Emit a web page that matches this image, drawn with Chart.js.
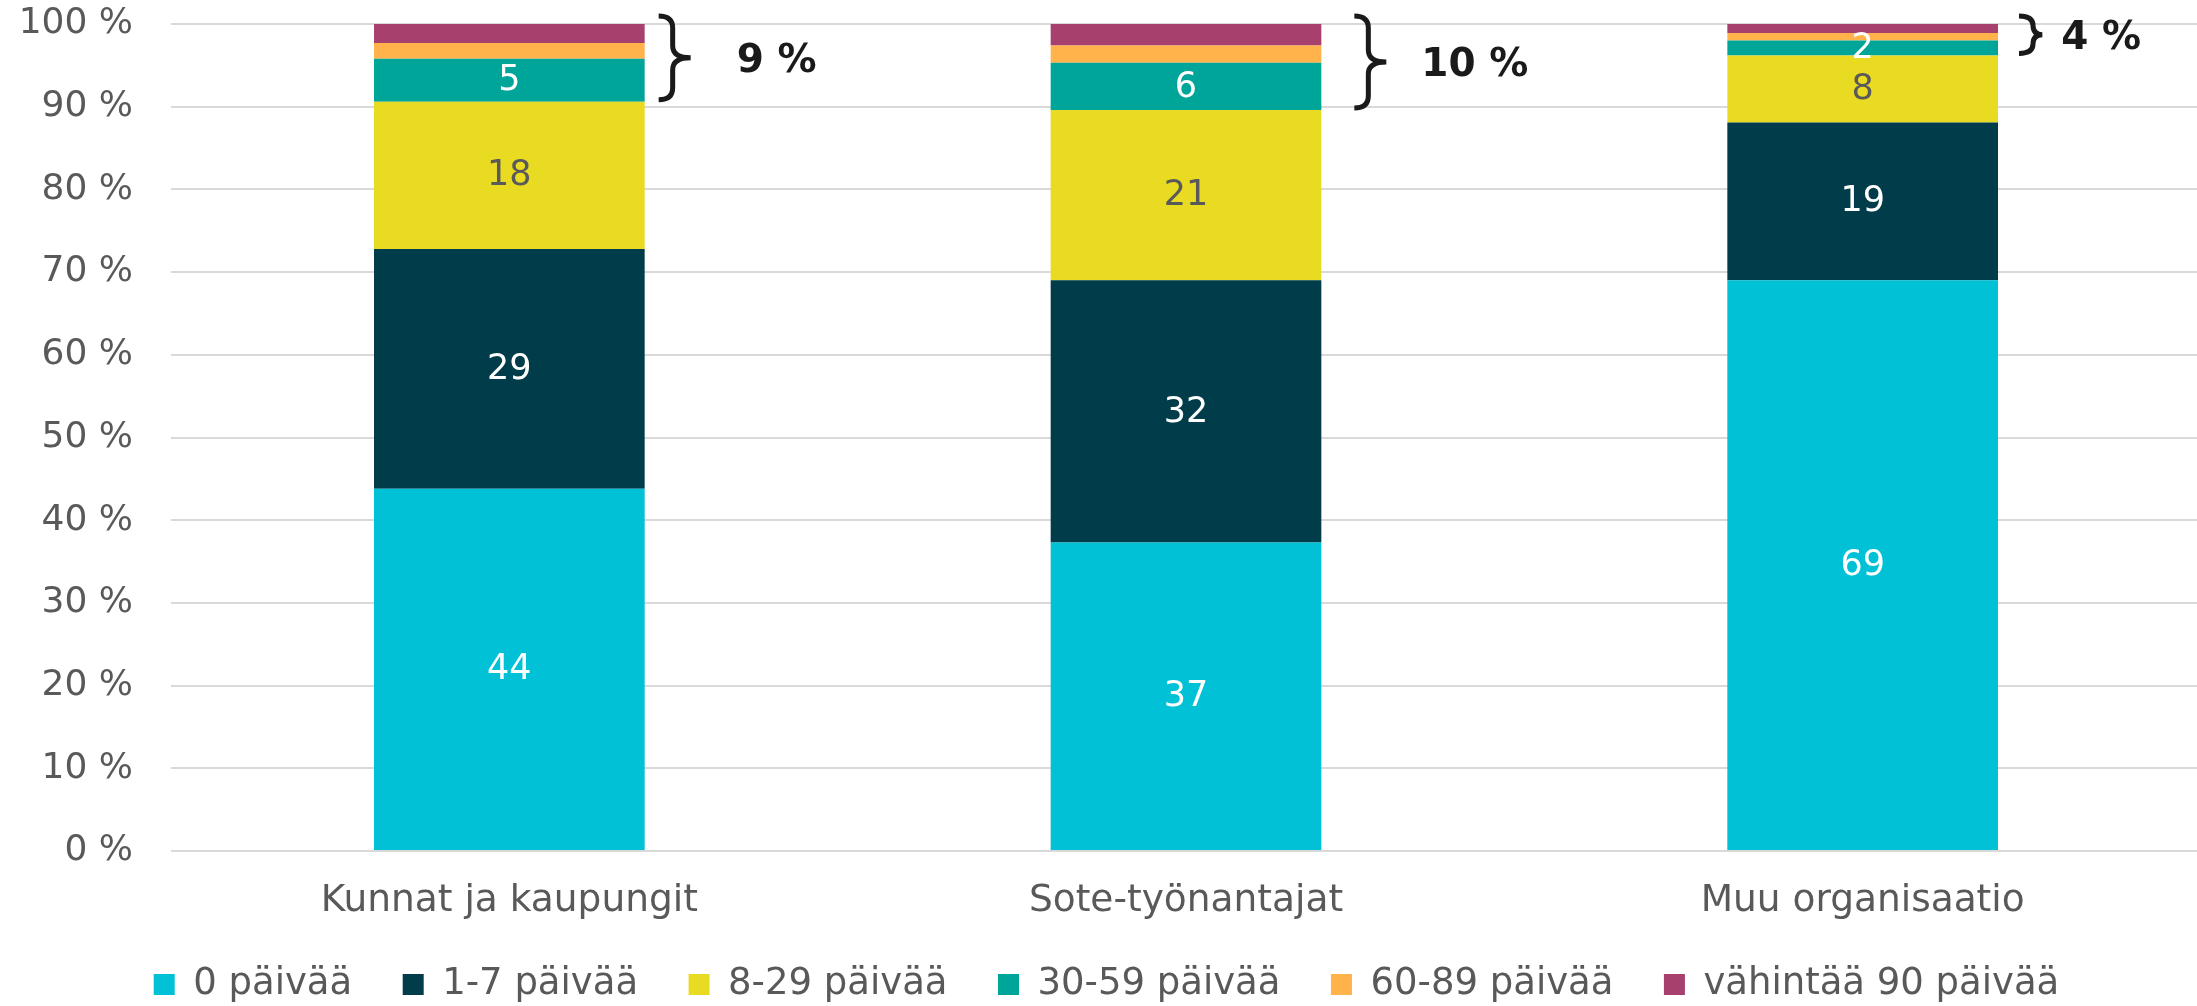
<!DOCTYPE html>
<html>
<head>
<meta charset="utf-8">
<script src="https://cdn.jsdelivr.net/npm/chart.js@4/dist/chart.umd.min.js"></script>
<style>
  html, body { margin: 0; padding: 0; overflow: hidden; background: #fff; }
  #wrap { width: 2201px; height: 1013px; }
</style>
</head>
<body>
<div id="wrap"><canvas id="myChart"></canvas></div>
<script>
var categories = ['Kunnat ja kaupungit', 'Sote-työnantajat', 'Muu organisaatio'];
var seriesNames = ['0 päivää', '1-7 päivää', '8-29 päivää', '30-59 päivää', '60-89 päivää', 'vähintää 90 päivää'];
var days0 = [43.8, 37.3, 69.0];
var days1to7 = [29.0, 31.7, 19.1];
var days8to29 = [17.8, 20.6, 8.1];
var days30to59 = [5.2, 5.7, 1.8];
var days60to89 = [1.9, 2.1, 0.9];
var days90 = [2.3, 2.6, 1.1];
var groupLabels = ['9 %', '10 %', '4 %'];

var colors = ['#00C1D5', '#013C4B', '#E9DB22', '#00A59A', '#FFB34A', '#A8406E'];
var labelColors = ['#ffffff', '#ffffff', '#595959', '#ffffff'];
var braceGap = [14, 33, 21];
var braceTextGap = [46, 35, 19];
var FONT = "'DejaVu Sans', Verdana, sans-serif";

var allSeries = [days0, days1to7, days8to29, days30to59, days60to89, days90];
var datasets = allSeries.map(function (d, i) {
    return {
        label: seriesNames[i],
        data: d,
        backgroundColor: colors[i],
        borderWidth: 0,
        barPercentage: 0.4,
        categoryPercentage: 1.0
    };
});

// numbers inside the four lowest segments
var segLabels = {
    id: 'segLabels',
    afterDatasetsDraw: function (chart) {
        var ctx = chart.ctx;
        ctx.save();
        ctx.font = '35px ' + FONT;
        ctx.textAlign = 'center';
        ctx.textBaseline = 'middle';
        for (var d = 0; d < 4; d++) {
            var meta = chart.getDatasetMeta(d);
            meta.data.forEach(function (bar, i) {
                ctx.fillStyle = labelColors[d];
                ctx.fillText(Math.round(allSeries[d][i]), bar.x, (bar.y + bar.base) / 2 + 1);
            });
        }
        ctx.restore();
    }
};

// curly braces next to the top three segments
var braces = {
    id: 'braces',
    afterDraw: function (chart) {
        var ctx = chart.ctx;
        var y = chart.scales.y;
        var meta = chart.getDatasetMeta(3);
        ctx.save();
        meta.data.forEach(function (bar, i) {
            var right = bar.x + bar.width / 2;
            var top = y.getPixelForValue(100) - 8;
            var bottom = bar.base - 2;
            var mid = (top + bottom) / 2;
            var h = bottom - top;
            var x0 = right + braceGap[i];
            var x1 = x0 + 14;
            var tip = x1 + Math.min(18, h / 4);
            var r = Math.min(12, h / 4);
            ctx.strokeStyle = '#1a1a1a';
            ctx.lineWidth = 5;
            ctx.beginPath();
            ctx.moveTo(x0, top);
            ctx.quadraticCurveTo(x1, top, x1, top + r);
            ctx.lineTo(x1, mid - r);
            ctx.quadraticCurveTo(x1, mid, tip, mid);
            ctx.quadraticCurveTo(x1, mid, x1, mid + r);
            ctx.lineTo(x1, bottom - r);
            ctx.quadraticCurveTo(x1, bottom, x0, bottom);
            ctx.stroke();
            ctx.fillStyle = '#1a1a1a';
            ctx.font = 'bold 39px ' + FONT;
            ctx.textAlign = 'left';
            ctx.textBaseline = 'middle';
            ctx.fillText(groupLabels[i], tip + braceTextGap[i], mid + 4);
        });
        ctx.restore();
    }
};

const ctx = document.getElementById('myChart').getContext('2d');
const myChart = new Chart(ctx, {
    type: 'bar',
    data: {
        labels: categories,
        datasets: datasets
    },
    options: {
        responsive: true,
        maintainAspectRatio: false,
        animation: false,
        layout: { padding: { left: 12, top: 0, right: 0, bottom: 0 } },
        plugins: {
            tooltip: { enabled: false },
            legend: {
                position: 'bottom',
                labels: {
                    boxWidth: 21,
                    boxHeight: 21,
                    padding: 32,
                    color: '#595959',
                    font: { family: FONT, size: 37 },
                    generateLabels: function (chart) {
                        var items = Chart.defaults.plugins.legend.labels.generateLabels(chart);
                        items.forEach(function (it, i) {
                            if (i < items.length - 1) it.text = it.text + '\u2002';
                        });
                        return items;
                    }
                }
            }
        },
        scales: {
            x: {
                stacked: true,
                grid: { display: false, drawTicks: false },
                border: { display: false },
                ticks: {
                    color: '#595959',
                    padding: 28,
                    font: { family: FONT, size: 37.5 }
                },
                afterFit: function (scale) { scale.height = 83; }
            },
            y: {
                stacked: true,
                min: 0,
                max: 100,
                border: { display: false },
                grid: { color: '#d9d9d9', lineWidth: 2, drawTicks: false },
                ticks: {
                    stepSize: 10,
                    padding: 38,
                    color: '#595959',
                    font: { family: FONT, size: 36 },
                    callback: function (v) { return v + ' %'; }
                },
                afterFit: function (scale) {
                    scale.width = 159;
                    scale.paddingTop = 24;
                    scale.paddingBottom = 21;
                }
            }
        }
    },
    plugins: [segLabels, braces]
});
</script>
</body>
</html>
